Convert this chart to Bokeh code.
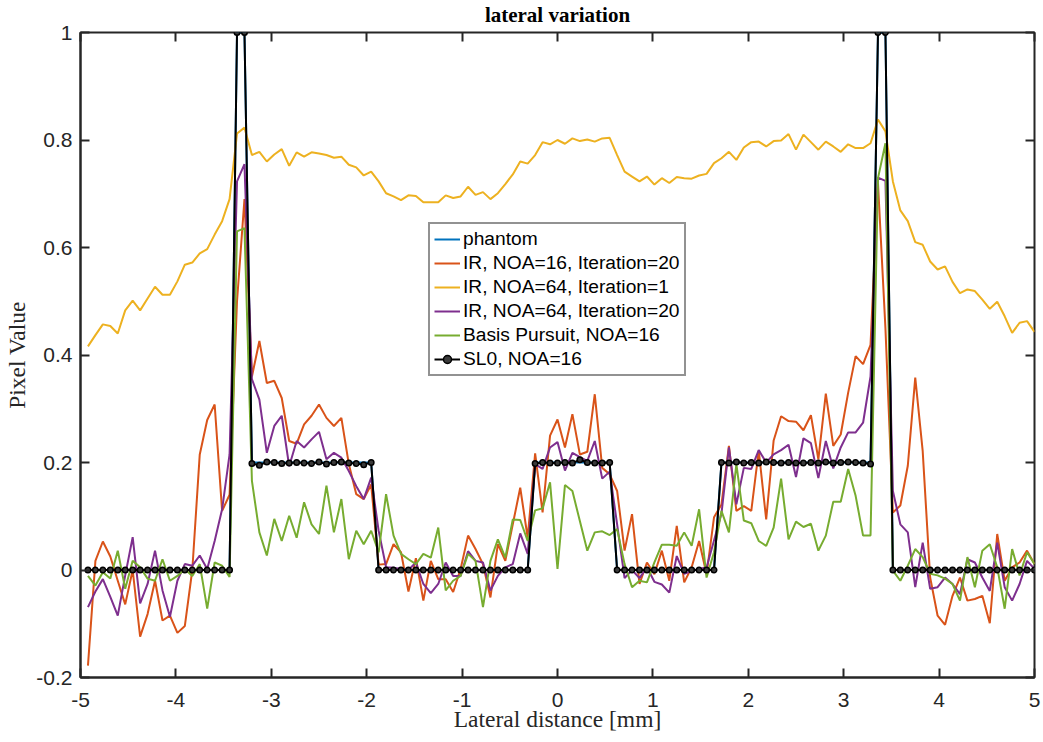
import numpy as np
from bokeh.plotting import figure
from bokeh.models import Range1d, FixedTicker, LinearAxis, Legend, LegendItem
from bokeh.embed import file_html
from bokeh.resources import INLINE

# sample positions (128 lateral samples, mm)
x_mm = np.linspace(-5 + 10 / 128, 5, 128)

phantom = [
    0, 0, 0, 0, 0, 0, 0, 0, 0, 0, 0, 0, 0, 0, 0, 0,
    0, 0, 0, 0, 1, 1, 0.2, 0.2, 0.2, 0.2, 0.2, 0.2, 0.2, 0.2, 0.2, 0.2,
    0.2, 0.2, 0.2, 0.2, 0.2, 0.2, 0.2, 0, 0, 0, 0, 0, 0, 0, 0, 0,
    0, 0, 0, 0, 0, 0, 0, 0, 0, 0, 0, 0, 0.2, 0.2, 0.2, 0.2,
    0.2, 0.2, 0.2, 0.2, 0.2, 0.2, 0.2, 0, 0, 0, 0, 0, 0, 0, 0, 0,
    0, 0, 0, 0, 0, 0.2, 0.2, 0.2, 0.2, 0.2, 0.2, 0.2, 0.2, 0.2, 0.2, 0.2,
    0.2, 0.2, 0.2, 0.2, 0.2, 0.2, 0.2, 0.2, 0.2, 0.2, 1, 1, 0, 0, 0, 0,
    0, 0, 0, 0, 0, 0, 0, 0, 0, 0, 0, 0, 0, 0, 0, 0,
]

ir16_it20 = [
    -0.178, 0.017, 0.053, 0.025, -0.020, -0.064, 0.000, -0.124, -0.082, -0.020, -0.094, -0.085, -0.117, -0.104, 0.000, 0.215,
    0.279, 0.308, 0.110, 0.140, 0.500, 0.690, 0.360, 0.426, 0.348, 0.352, 0.320, 0.240, 0.235, 0.271, 0.287, 0.308,
    0.283, 0.268, 0.283, 0.197, 0.141, 0.132, 0.159, 0.010, 0.011, 0.048, 0.033, -0.040, 0.022, -0.057, 0.017, -0.017,
    -0.017, -0.041, 0.002, 0.064, 0.039, 0.011, -0.051, 0.048, 0.017, 0.085, 0.153, 0.060, 0.217, 0.107, 0.250, 0.280,
    0.228, 0.290, 0.215, 0.220, 0.327, 0.190, 0.178, 0.147, 0.036, 0.104, -0.026, 0.014, -0.008, 0.036, -0.020, 0.082,
    -0.023, 0.005, 0.054, -0.008, 0.098, 0.122, 0.231, 0.110, 0.119, 0.110, 0.222, 0.094, 0.241, 0.286, 0.277, 0.276,
    0.260, 0.288, 0.206, 0.328, 0.231, 0.252, 0.330, 0.398, 0.383, 0.419, 0.720, 0.450, 0.107, 0.120, 0.194, 0.358,
    0.221, -0.014, -0.085, -0.102, -0.048, -0.014, -0.057, -0.054, -0.048, -0.099, 0.067, -0.020, 0.005, 0.014, 0.036, 0.011,
]

ir64_it1 = [
    0.416, 0.437, 0.457, 0.454, 0.440, 0.483, 0.501, 0.483, 0.505, 0.527, 0.512, 0.512, 0.537, 0.568, 0.572, 0.589,
    0.597, 0.624, 0.649, 0.690, 0.812, 0.823, 0.772, 0.778, 0.760, 0.773, 0.783, 0.752, 0.777, 0.769, 0.777, 0.775,
    0.772, 0.767, 0.769, 0.754, 0.749, 0.734, 0.741, 0.723, 0.701, 0.695, 0.688, 0.697, 0.696, 0.684, 0.684, 0.684,
    0.697, 0.692, 0.695, 0.713, 0.698, 0.703, 0.690, 0.701, 0.718, 0.736, 0.760, 0.756, 0.772, 0.796, 0.792, 0.800,
    0.793, 0.803, 0.798, 0.801, 0.797, 0.803, 0.804, 0.772, 0.741, 0.732, 0.723, 0.732, 0.717, 0.729, 0.720, 0.731,
    0.729, 0.728, 0.734, 0.737, 0.757, 0.766, 0.778, 0.763, 0.786, 0.796, 0.797, 0.788, 0.798, 0.799, 0.811, 0.782,
    0.810, 0.796, 0.782, 0.797, 0.788, 0.778, 0.792, 0.785, 0.785, 0.794, 0.838, 0.816, 0.723, 0.669, 0.649, 0.610,
    0.605, 0.574, 0.559, 0.565, 0.536, 0.515, 0.522, 0.519, 0.503, 0.486, 0.499, 0.472, 0.441, 0.460, 0.463, 0.443,
]

ir64_it20 = [
    -0.069, -0.040, -0.017, -0.050, -0.085, -0.010, 0.061, -0.062, -0.026, 0.036, -0.038, -0.087, -0.020, 0.011, 0.008, 0.027,
    0.002, 0.054, 0.113, 0.215, 0.723, 0.755, 0.355, 0.317, 0.218, 0.268, 0.287, 0.193, 0.240, 0.228, 0.243, 0.257,
    0.206, 0.218, 0.209, 0.184, 0.156, 0.132, 0.172, 0.073, 0.005, 0.004, 0.002, 0.000, 0.014, -0.026, -0.043, -0.026,
    0.014, -0.011, -0.011, 0.035, 0.017, 0.014, -0.038, -0.011, 0.005, 0.011, 0.068, 0.030, 0.197, 0.188, 0.228, 0.238,
    0.185, 0.218, 0.210, 0.203, 0.240, 0.170, 0.183, 0.085, -0.015, 0.000, -0.015, 0.005, -0.022, -0.027, -0.042, 0.026,
    -0.007, -0.002, 0.002, 0.005, 0.055, 0.105, 0.228, 0.122, 0.190, 0.188, 0.223, 0.200, 0.215, 0.223, 0.233, 0.173,
    0.245, 0.236, 0.171, 0.240, 0.189, 0.228, 0.256, 0.256, 0.274, 0.360, 0.730, 0.724, 0.147, 0.085, 0.070, -0.032,
    0.051, -0.035, -0.032, -0.014, -0.026, -0.045, 0.020, 0.014, -0.014, -0.039, 0.051, -0.032, -0.057, -0.026, 0.017, 0.002,
]

basis_pursuit = [
    -0.011, -0.029, -0.004, -0.016, 0.036, -0.035, 0.017, 0.005, -0.016, -0.020, 0.020, -0.020, -0.011, 0.002, -0.011, 0.011,
    -0.072, 0.014, 0.008, -0.013, 0.630, 0.636, 0.166, 0.070, 0.027, 0.095, 0.054, 0.101, 0.060, 0.126, 0.085, 0.067,
    0.157, 0.070, 0.132, 0.020, 0.073, 0.048, 0.073, 0.033, 0.141, 0.064, 0.030, 0.020, 0.011, 0.030, 0.023, 0.079,
    -0.038, -0.020, -0.011, 0.030, 0.017, -0.069, 0.017, 0.057, 0.023, 0.094, 0.093, 0.054, 0.111, 0.115, 0.163, 0.002,
    0.158, 0.147, 0.091, 0.036, 0.070, 0.072, 0.065, 0.076, 0.011, -0.032, -0.020, -0.023, 0.014, 0.047, 0.047, 0.045,
    0.070, 0.045, 0.113, -0.014, 0.033, 0.110, 0.070, 0.197, 0.092, 0.087, 0.054, 0.045, 0.079, 0.170, 0.057, 0.090,
    0.080, 0.086, 0.036, 0.064, 0.127, 0.127, 0.188, 0.138, 0.064, 0.064, 0.729, 0.794, -0.001, -0.020, 0.008, 0.039,
    0.024, -0.007, -0.010, -0.016, -0.026, -0.057, 0.024, -0.032, 0.036, 0.048, 0.005, -0.072, 0.039, -0.010, 0.033, 0.011,
]

sl0 = [
    0, 0, 0, 0, 0, 0, 0, 0, 0, 0, 0, 0, 0, 0, 0, 0,
    0, 0, 0, 0, 1, 1, 0.198, 0.195, 0.201, 0.200, 0.198, 0.199, 0.200, 0.199, 0.198, 0.201,
    0.197, 0.200, 0.201, 0.199, 0.198, 0.196, 0.200, 0, 0, 0, 0, 0, 0, 0, 0, 0,
    0, 0, 0, 0, 0, 0, 0, 0, 0, 0, 0, 0, 0.198, 0.200, 0.199, 0.199,
    0.200, 0.199, 0.205, 0.200, 0.199, 0.199, 0.200, 0, 0, 0, 0, 0, 0, 0, 0, 0,
    0, 0, 0, 0, 0, 0.200, 0.199, 0.201, 0.199, 0.200, 0.199, 0.201, 0.200, 0.199, 0.200, 0.199,
    0.199, 0.200, 0.199, 0.201, 0.199, 0.200, 0.201, 0.200, 0.199, 0.197, 1, 1, 0, 0, 0, 0,
    0, 0, 0, 0, 0, 0, 0, 0, 0, 0, 0, 0, 0, 0, 0, 0,
]

x_ticks = [-5, -4, -3, -2, -1, 0, 1, 2, 3, 4, 5]
x_tick_labels = ["-5", "-4", "-3", "-2", "-1", "0", "1", "2", "3", "4", "5"]
y_ticks = [-0.2, 0, 0.2, 0.4, 0.6, 0.8, 1]
y_tick_labels = ["-0.2", "0", "0.2", "0.4", "0.6", "0.8", "1"]

series_names = ["phantom", "IR, NOA=16, Iteration=20", "IR, NOA=64, Iteration=1",
                "IR, NOA=64, Iteration=20", "Basis Pursuit, NOA=16", "SL0, NOA=16"]
colors = ["#0072BD", "#D95319", "#EDB120", "#7E2F8E", "#77AC30", "#000000"]

AX = "#262626"
SANS = "Liberation Sans"
SERIF = "Liberation Serif"

p = figure(width=1043, height=742, x_range=Range1d(-5, 5), y_range=Range1d(-0.2, 1),
           output_backend="svg", toolbar_location=None,
           min_border_left=80, min_border_right=9, min_border_top=31, min_border_bottom=65)
p.background_fill_color = "white"
p.border_fill_color = "white"
p.xgrid.visible = False
p.ygrid.visible = False
p.outline_line_color = AX
p.outline_line_width = 2
p.outline_line_alpha = 1

p.title.text = "lateral variation"
p.title.align = "center"
p.title.text_font = SERIF
p.title.text_font_style = "bold"
p.title.text_font_size = "21px"
p.title.text_color = "#000000"
p.title.standoff = 0

for ax in (p.xaxis[0], p.yaxis[0]):
    ax.major_tick_in = 9
    ax.major_tick_out = 0
    ax.minor_tick_line_color = None
    ax.axis_line_color = AX
    ax.axis_line_width = 2
    ax.major_tick_line_color = AX
    ax.major_tick_line_width = 2
    ax.major_label_text_font = SANS
    ax.major_label_text_font_size = "21px"
    ax.major_label_text_color = AX
    ax.axis_label_text_font = SERIF
    ax.axis_label_text_font_size = "23.5px"
    ax.axis_label_text_font_style = "normal"
    ax.axis_label_text_color = AX

p.xaxis[0].ticker = FixedTicker(ticks=x_ticks)
p.xaxis[0].major_label_overrides = dict(zip(x_ticks, x_tick_labels))
p.xaxis[0].axis_label = "Lateral distance [mm]"
p.xaxis[0].major_label_standoff = 15
p.xaxis[0].axis_label_standoff = -4

p.yaxis[0].ticker = FixedTicker(ticks=y_ticks)
p.yaxis[0].major_label_overrides = dict(zip(y_ticks, y_tick_labels))
p.yaxis[0].axis_label = "Pixel Value"
p.yaxis[0].major_label_standoff = 8
p.yaxis[0].axis_label_standoff = 3

# box ticks on the top and right sides (MATLAB "box on")
top_ax = LinearAxis(ticker=FixedTicker(ticks=x_ticks), major_label_overrides={t: "" for t in x_ticks},
                    major_label_text_font_size="1px",
                    major_tick_in=9, major_tick_out=0, major_tick_line_color=AX, major_tick_line_width=2,
                    minor_tick_line_color=None, axis_line_color=None, major_label_standoff=0)
# invisible spacer axis that lifts the title a little above the box
spacer_ax = LinearAxis(ticker=FixedTicker(ticks=x_ticks), major_label_overrides={t: "" for t in x_ticks},
                       major_label_text_font_size="1px",
                       major_tick_in=0, major_tick_out=6, major_tick_line_color=None,
                       minor_tick_line_color=None, axis_line_color=None, major_label_standoff=0)
right_ax = LinearAxis(ticker=FixedTicker(ticks=y_ticks), major_label_overrides={t: "" for t in y_ticks},
                      major_label_text_font_size="1px",
                      major_tick_in=9, major_tick_out=0, major_tick_line_color=AX, major_tick_line_width=2,
                      minor_tick_line_color=None, axis_line_color=None, major_label_standoff=0)
p.add_layout(top_ax, "above")
p.add_layout(spacer_ax, "above")
p.add_layout(right_ax, "right")

data = [phantom, ir16_it20, ir64_it1, ir64_it20, basis_pursuit, sl0]
items = []
for name, col, ys in zip(series_names, colors, data):
    r = p.line(list(x_mm), ys, line_color=col, line_width=2)
    rs = [r]
    if name.startswith("SL0"):
        m = p.scatter(list(x_mm), ys, marker="circle", size=5.5, line_color="black",
                      line_width=1.5, fill_color="#3a3a3a")
        rs.append(m)
    items.append(LegendItem(label=name, renderers=rs))

legend = Legend(items=items, location=(348, 301))
legend.label_text_font = SANS
legend.label_text_font_size = "19.2px"
legend.label_text_color = "#000000"
legend.glyph_width = 26
legend.glyph_height = 20
legend.label_height = 20
legend.spacing = 2
legend.padding = 4
legend.margin = 0
legend.label_standoff = 3
legend.border_line_color = AX
legend.border_line_width = 2
legend.background_fill_color = "white"
legend.background_fill_alpha = 1
p.add_layout(legend)

open("out.html", "w").write(file_html(p, INLINE))
